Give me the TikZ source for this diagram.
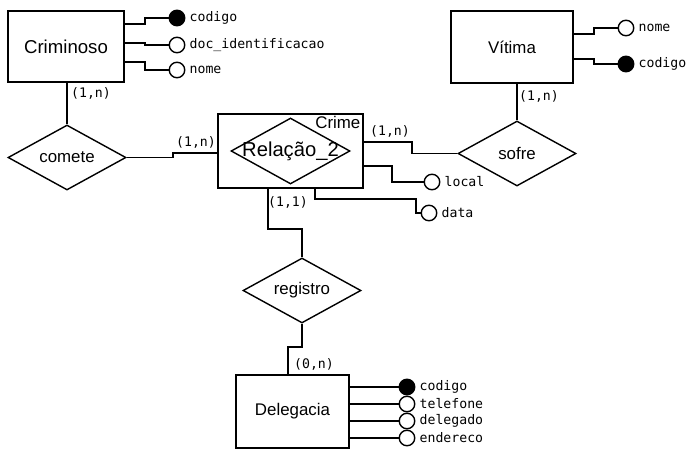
\documentclass[tikz,border=0pt]{standalone}
\usepackage{fontspec}
\setmainfont{Liberation Sans}
\newfontfamily\attfont{DejaVu Sans Mono}
\usetikzlibrary{shapes.geometric}
\newcommand{\erfont}{\fontsize{9.6}{11}\selectfont}
\newcommand{\bigerfont}{\fontsize{10.6}{12}\selectfont}
\newcommand{\relfont}{\fontsize{11.5}{13}\selectfont}
\newcommand{\attsize}{\attfont\fontsize{7.5}{9}\selectfont}

\begin{document}
\begin{tikzpicture}[x=0.02cm, y=-0.02cm, line width=0.8pt,
    entity/.style={draw, font=\erfont},
    rel/.style={draw, diamond, minimum width=2.36cm, minimum height=1.3cm, inner sep=0pt},
    rellbl/.style={font=\erfont},
    attr/.style={circle, draw, minimum size=0.31cm, inner sep=0pt, label distance=3.5pt},
    key/.style={attr, fill=black},
    dattr/.style={attr, label distance=0pt},
    attlbl/.style={font=\attsize, inner sep=2pt},
    card/.style={font=\attsize, inner sep=0pt}]
                        \useasboundingbox (0,0) rectangle (691,450);

                        % Nodes
                        \node[entity, font=\bigerfont, minimum width=2.32cm, minimum height=1.42cm] (criminoso) at (66,46.5) {Criminoso};
                        \node[entity, minimum width=2.44cm, minimum height=1.44cm] (vitima) at (512,47) {Vítima};
                        \node[entity, minimum width=2.26cm, minimum height=1.46cm] (delegacia) at (292.5,411.5) {Delegacia};
                        \node[draw, minimum width=2.9cm, minimum height=1.48cm] (crime) at (290.5,151) {};
                        \node[anchor=north east, inner sep=1.5pt, font=\erfont] (crimelbl) at (crime.north east) {Crime};

                        \node[rel, minimum width=2.38cm, minimum height=1.32cm, label={[font=\relfont]center:Relação\_2}] (relacao) at (290.5,151) {};
                        \node[rel, label={[rellbl]center:comete}] (comete) at (67,157.5) {};
                        \node[rel, label={[rellbl]center:sofre}] (sofre) at (517,153.5) {};
                        \node[rel, label={[rellbl]center:registro}] (registro) at (302,290.5) {};

                        \node[key, label={[attlbl]right:codigo}] (crimcod) at (177,18) {};
                        \node[attr, label={[attlbl]right:doc\_identificacao}] (crimdoc) at (177,45) {};
                        \node[attr, label={[attlbl]right:nome}] (crimnome) at (177,70) {};
                        \node[attr, label={[attlbl]right:nome}] (vitnome) at (626,28) {};
                        \node[key, label={[attlbl]right:codigo}] (vitcod) at (626,64) {};
                        \node[attr, label={[attlbl]right:local}] (local) at (432,182) {};
                        \node[attr, label={[attlbl]right:data}] (data) at (429,213) {};
                        \node[key, dattr, label={[attlbl]right:codigo}] (delcod) at (407,387) {};
                        \node[dattr, label={[attlbl]right:telefone}] (deltel) at (407,404) {};
                        \node[dattr, label={[attlbl]right:delegado}] (deldel) at (407,421) {};
                        \node[dattr, label={[attlbl]right:endereco}] (delend) at (407,438) {};

                        \node[card] (cardcrim) at (91,93) {(1,n)};
                        \node[card] (cardcomete) at (196,142) {(1,n)};
                        \node[card] (cardsofre) at (390,131) {(1,n)};
                        \node[card] (cardvit) at (539,96) {(1,n)};
                        \node[card] (cardreg) at (288,202) {(1,1)};
                        \node[card] (carddel) at (314,364) {(0,n)};

                        % Edges
                        \draw (criminoso.east |- 0,24) -- (145,24) |- (crimcod);
                        \draw (criminoso.east |- 0,43) -- (145,43) |- (crimdoc);
                        \draw (criminoso.east |- 0,62) -- (145,62) |- (crimnome);
                        \draw (vitima.east |- 0,34) -- (594,34) |- (vitnome);
                        \draw (vitima.east |- 0,59) -- (594,59) |- (vitcod);

                        \draw (comete.north) -- (comete.north |- criminoso.south);
                        \draw (comete.east) -| (173,153) -- (crime.west |- 0,153);
                        \draw (crime.east |- 0,142) -- (412,142) |- (sofre.west);
                        \draw (sofre.north) -- (sofre.north |- vitima.south);

                        \draw (crime.east |- 0,166) -- (392,166) |- (local);
                        \draw (crime.south -| 315,0) |- (416,199) |- (data);

                        \draw (crime.south -| 268,0) |- (302,229) -- (registro.north);
                        \draw (registro.south) -- (302,347) -| (delegacia.north -| 288,0);

                        \draw (delegacia.east |- delcod) -- (delcod);
                        \draw (delegacia.east |- deltel) -- (deltel);
                        \draw (delegacia.east |- deldel) -- (deldel);
                        \draw (delegacia.east |- delend) -- (delend);
                    \end{tikzpicture}
\end{document}
